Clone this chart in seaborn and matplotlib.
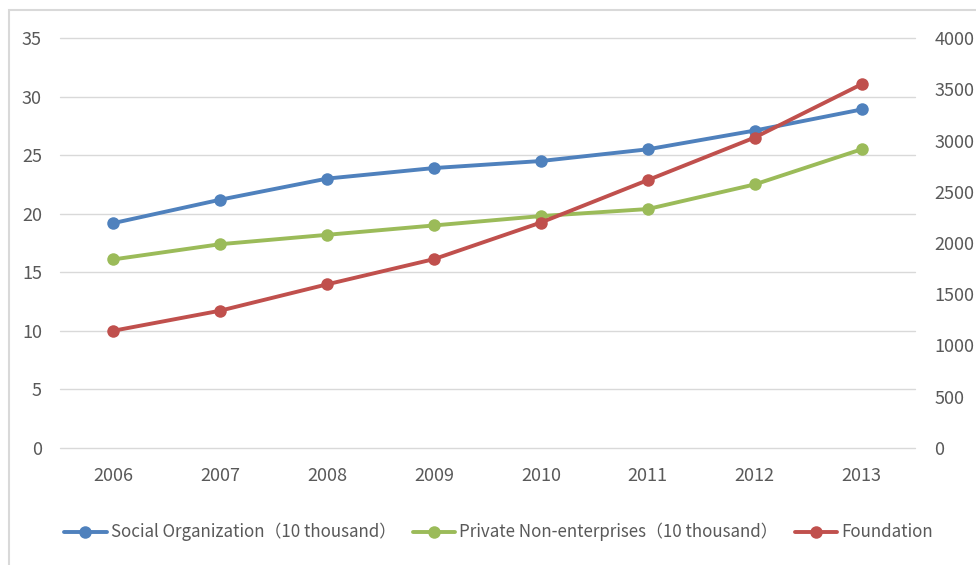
import matplotlib
matplotlib.use("Agg")
import matplotlib.pyplot as plt
import seaborn as sns
import pandas as pd
from matplotlib.patches import Rectangle

years = ["2006", "2007", "2008", "2009", "2010", "2011", "2012", "2013"]
social = [19.2, 21.2, 23.0, 23.9, 24.5, 25.5, 27.1, 28.9]
private = [16.1, 17.4, 18.2, 19.0, 19.8, 20.4, 22.5, 25.5]
foundation = [1144, 1340, 1597, 1843, 2200, 2614, 3029, 3549]
left_ticks = [0, 5, 10, 15, 20, 25, 30, 35]
right_ticks = [0, 500, 1000, 1500, 2000, 2500, 3000, 3500, 4000]
names = ["Social Organization（10 thousand）", "Private Non-enterprises（10 thousand）", "Foundation"]

sns.set_theme(style="white")
plt.rcParams['font.family'] = ['Noto Sans CJK SC', 'DejaVu Sans']

blue, green, red = "#4F81BD", "#9BBB59", "#C0504D"
tick_color = "#595959"

df = pd.DataFrame({"year": years, "social": social, "private": private, "foundation": foundation})

fig = plt.figure(figsize=(9.76, 5.65), dpi=100)
ax = fig.add_axes([0.0615, 0.2071, 0.876, 0.7256])
ax2 = ax.twinx()

kw = dict(linewidth=2.8, marker="o", markersize=9, markeredgewidth=0)
sns.lineplot(data=df, x="year", y="social", ax=ax, color=blue, label=names[0], sort=False, legend=False, **kw)
sns.lineplot(data=df, x="year", y="private", ax=ax, color=green, label=names[1], sort=False, legend=False, **kw)
sns.lineplot(data=df, x="year", y="foundation", ax=ax2, color=red, label=names[2], sort=False, legend=False, **kw)

ax.set_xlim(-0.5, len(years) - 0.5)
ax.set_ylim(0, 35)
ax2.set_ylim(0, 4000)
ax.set_yticks(left_ticks)
ax2.set_yticks(right_ticks)
ax.set_xlabel("")
ax.set_ylabel("")
ax2.set_ylabel("")
ax.yaxis.grid(True, color="#D9D9D9", linewidth=1.0)
for gl in ax.get_ygridlines():
    gl.set_clip_on(False)
ax.set_axisbelow(True)
ax2.grid(False)
for a in (ax, ax2):
    for s in a.spines.values():
        s.set_visible(False)
    a.tick_params(axis="both", length=0, labelsize=13, colors=tick_color)
ax.tick_params(axis="x", pad=14)
ax.tick_params(axis="y", pad=13)
ax2.tick_params(axis="y", pad=14)

h1, l1 = ax.get_legend_handles_labels()
h2, l2 = ax2.get_legend_handles_labels()
leg = fig.legend(h1 + h2, l1 + l2, loc="center", bbox_to_anchor=(0.511, 0.058), ncol=3,
                 frameon=False, fontsize=12.2, handlelength=2.5, handletextpad=0.25,
                 columnspacing=1.0, labelcolor=tick_color)

fig.patches.append(Rectangle((9 / 976, -0.1), 1.2, 1 - 10 / 565 + 0.1, transform=fig.transFigure,
                             fill=False, edgecolor="#D9D9D9", linewidth=1.5, zorder=0))

fig.savefig("out.png", dpi=100)
